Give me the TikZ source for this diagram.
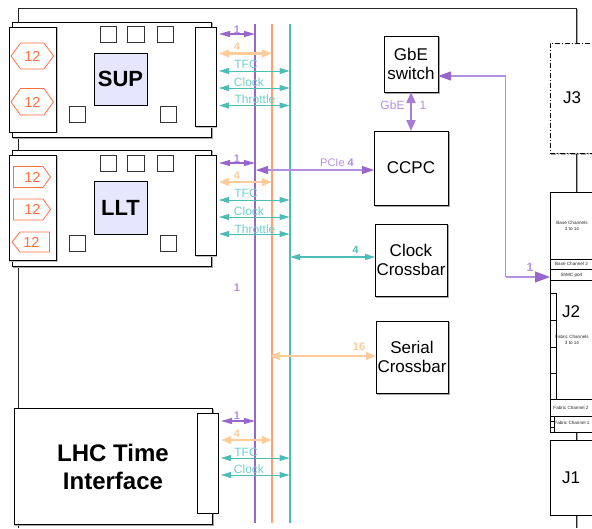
\documentclass[tikz,border=0pt]{standalone}
\usepackage{fontspec}
\setmainfont{Liberation Sans}
\usetikzlibrary{arrows.meta,shadows,shapes.geometric}
\definecolor{pur}{HTML}{9966CC}
\definecolor{purt}{HTML}{B48FE0}
\definecolor{org}{HTML}{FFA070}
\definecolor{pea}{HTML}{FFCC99}
\definecolor{teal2}{HTML}{4DBDB5}
\definecolor{tealt}{HTML}{70CFC8}
\definecolor{red2}{HTML}{FF7043}
\definecolor{lav}{HTML}{E6E6FF}
\newcommand{\bx}[7][]{%
 \node[rbox,#1,minimum width={(#4)-(#2)},minimum height={(#5)-(#3)}] (#6) at ({((#2)+(#4))/2},{((#3)+(#5))/2}) {#7};}
\tikzset{
 rbox/.style={draw=black,fill=white,line width=.8pt,inner sep=0pt,outer sep=0pt,align=center,font=\fontsize{17}{20}\selectfont},
 shad/.style={copy shadow={draw=gray!70,fill=gray!70,shadow xshift=1.3pt,shadow yshift=-1.3pt}},
 shadl/.style={copy shadow={draw=gray!50,fill=gray!50,shadow xshift=.5pt,shadow yshift=-.5pt}},
 small/.style={rbox,line width=.9pt,draw=black!80},
 bus/.style={line width=2pt},
 tee/.style={teal2,line width=1pt,{Triangle[length=10pt,width=6pt]}-{Triangle[length=10pt,width=6pt]},shorten <=3pt},
 pp/.style={pur,line width=1.1pt,{Triangle[length=11pt,width=6pt]}-{Triangle[length=11pt,width=6pt]},shorten <=3pt},
 oo/.style={pea,line width=2.6pt,{Triangle[length=10pt,width=7.5pt]}-{Triangle[length=10pt,width=7.5pt]},shorten <=3pt},
 lab/.style={inner sep=0pt,font=\fontsize{12}{14}\selectfont},
 lt/.style={lab,text=tealt},
 lp/.style={lab,text=purt,font=\bfseries\fontsize{11}{13}\selectfont},
 lo/.style={lab,text=pea,font=\bfseries\fontsize{11}{13}\selectfont},
 tiny/.style={inner sep=0pt,align=center,font=\fontsize{4.6}{5.4}\selectfont,text=black!85},
 num/.style={inner sep=0pt,text=red2,font=\fontsize{14.5}{16}\selectfont},
 ol/.style={draw=red2,fill=white,line width=.8pt},
 rail/.style={draw=black!85,line width=1pt},
}
\begin{document}
\begin{tikzpicture}[x=1pt,y=-1pt]
\clip (0,0) rectangle (592,528);
% backplane rail
\coordinate (r0) at (18,528);
\coordinate (r1) at (18,8);
\coordinate (r2) at (576,8);
\coordinate (r3) at (576,528);
\draw[draw=gray!70,line width=1pt] (577.2,9) -- (577.2,528);
\draw[rail] (r0) -- (r1) -- (r2) -- (r3);
% SUP
\bx[shad]{12.5}{22}{211}{137}{sup}{}
\bx[shadl]{9}{27}{56.5}{132}{supl}{}
\bx[shadl]{195.5}{27}{216}{126.5}{supc}{}
\bx[small]{100}{26}{116}{42}{s1}{}
\bx[small]{127.5}{26}{144}{42}{s2}{}
\bx[small]{157.5}{26}{173.5}{42}{s3}{}
\bx[small]{69}{106}{85}{122}{s4}{}
\bx[small]{160.5}{106}{176.5}{122}{s5}{}
\bx[fill=lav,font=\bfseries\fontsize{22}{24}\selectfont]{94}{53}{147}{105}{supn}{SUP}
\draw[ol] (11,56) -- (20.5,43) -- (44,43) -- (53.5,56) -- (44,69) -- (20.5,69) -- cycle;
\node[num] (h1) at (32.5,56) {12};
\draw[ol] (11,102) -- (20.5,88.5) -- (44,88.5) -- (53.5,102) -- (44,115) -- (20.5,115) -- cycle;
\node[num] (h2) at (32.5,102) {12};
% LLT
\bx[shad]{12.5}{150}{211}{266}{llt}{}
\bx[shadl]{9}{155.5}{56.5}{260.5}{lltl}{}
\bx[shadl]{195.5}{155.5}{216}{255.5}{lltc}{}
\bx[small]{100}{155}{116}{171}{l1}{}
\bx[small]{127.5}{155}{144}{171}{l2}{}
\bx[small]{157.5}{155}{173.5}{171}{l3}{}
\bx[small]{69}{235}{85}{251}{l4}{}
\bx[small]{160.5}{235}{176.5}{251}{l5}{}
\bx[fill=lav,font=\bfseries\fontsize{22}{24}\selectfont]{94}{181.5}{147}{234.5}{lltn}{LLT}
\draw[ol] (13.5,166.5) -- (43,166.5) -- (50.5,177) -- (43,187.5) -- (13.5,187.5) -- cycle;
\node[num] (p1) at (32.5,177) {12};
\draw[ol] (13.5,199) -- (43,199) -- (50.5,209.5) -- (43,220) -- (13.5,220) -- cycle;
\node[num] (p2) at (32.5,209.5) {12};
\draw[ol] (12,242) -- (20,232) -- (49.5,232) -- (49.5,252) -- (20,252) -- cycle;
\node[num] (p3) at (31.5,242) {12};
% LHC
\bx[shad]{14.5}{408}{212.5}{524}{lhc}{}
\node[inner sep=0pt,align=center,font=\bfseries\fontsize{24}{28}\selectfont] (lhct) at (113,466.5) {LHC Time\\Interface};
\bx[shadl]{197}{413.5}{218}{513}{lhcc}{}
% buses
\coordinate (pt) at (255,24); \coordinate (pb) at (255,523);
\coordinate (ot) at (272,24); \coordinate (ob) at (272,523);
\coordinate (tt) at (289.5,24); \coordinate (tb) at (289.5,523);
\draw[bus,pur] (pt) -- (pb);
\draw[bus,org] (ot) -- (ob);
\draw[bus,teal2] (tt) -- (tb);
% SUP arrows
\draw[pp] (supc.east |- 0,34) -- (pt |- 0,34);
\draw[oo] (supc.east |- 0,53.5) -- (ot |- 0,53.5);
\draw[tee] (supc.east |- 0,71) -- (tt |- 0,71);
\draw[tee] (supc.east |- 0,88) -- (tt |- 0,88);
\draw[tee] (supc.east |- 0,105.5) -- (tt |- 0,105.5);
\node[lp] (a1) at (237,30) {1};
\node[lo] (a2) at (237,47) {4};
\node[lt] (a3) at (246,64.5) {TFC};
\node[lt] (a4) at (249,82) {Clock};
\node[lt] (a5) at (255,99.5) {Throttle};
% LLT arrows
\draw[pp] (lltc.east |- 0,163) -- (pt |- 0,163);
\draw[oo] (lltc.east |- 0,182) -- (ot |- 0,182);
\draw[tee] (lltc.east |- 0,200) -- (tt |- 0,200);
\draw[tee] (lltc.east |- 0,217) -- (tt |- 0,217);
\draw[tee] (lltc.east |- 0,234) -- (tt |- 0,234);
\node[lp] (b1) at (237,159) {1};
\node[lo] (b2) at (237,176) {4};
\node[lt] (b3) at (246,193.5) {TFC};
\node[lt] (b4) at (249,211) {Clock};
\node[lt] (b5) at (255,229) {Throttle};
\node[lp] (free1) at (237,288) {1};
% LHC arrows
\draw[pp] (lhcc.east |- 0,421) -- (pt |- 0,421);
\draw[oo] (lhcc.east |- 0,440) -- (ot |- 0,440);
\draw[tee] (lhcc.east |- 0,458) -- (tt |- 0,458);
\draw[tee] (lhcc.east |- 0,475) -- (tt |- 0,475);
\node[lp] (c1) at (237,416) {1};
\node[lo] (c2) at (237,434) {4};
\node[lt] (c3) at (246,452) {TFC};
\node[lt] (c4) at (249,469) {Clock};
% right boxes
\bx[shad]{384}{36}{438}{92}{gbe}{GbE\\[-1pt]switch}
\bx[shad]{374}{131}{448}{205}{ccpc}{CCPC}
\bx[shad]{375}{224}{447}{296}{clk}{Clock\\[-1pt]Crossbar}
\bx[shad]{376}{321}{448}{393}{ser}{Serial\\[-1pt]Crossbar}
% J boxes
\bx[shad,dash pattern=on 5pt off 2pt on 1pt off 2pt]{550}{43}{620}{153}{j3}{}
\node[inner sep=0pt,font=\fontsize{17}{20}\selectfont] (j3t) at (572,98) {J3};
\bx{550}{192}{620}{259}{bc}{}
\bx{550}{259}{620}{269}{bc2}{}
\bx{550}{269}{620}{280}{shmc}{}
\bx{550}{280}{620}{399}{j2}{}
\bx{550}{293}{556}{399}{j2s}{}
\draw[line width=.8pt] (550,320) -- (556,320) (550,347) -- (556,347) (550,373) -- (556,373);
\bx{550}{399}{620}{416}{fc2}{}
\bx{550}{416}{620}{432}{fc1}{}
\draw[line width=.7pt] (554,416) -- (554,432) (550,421) -- (554,421) (550,427) -- (554,427);
\bx{550}{440}{620}{515}{j1}{}
\node[inner sep=0pt,font=\fontsize{17}{20}\selectfont] (j2t) at (571,312) {J2};
\node[inner sep=0pt,font=\fontsize{17}{20}\selectfont] (j1t) at (571,478) {J1};
\node[tiny] (t1) at (572,226) {Base Channels\\3 to 14};
\node[tiny] (t2) at (571.5,264) {Base Channel 2};
\node[tiny] (t3) at (571.5,275) {ShMC port};
\node[tiny] (t4) at (572,340) {Fabric Channels\\3 to 14};
\node[tiny] (t5) at (571,408) {Fabric Channel 2};
\node[tiny] (t6) at (572,423) {Fabric Channel 1};
% right connectors
\coordinate (pc) at (256,170);
\draw[purt,line width=1.1pt,{Triangle[length=12pt,width=8pt,pur]}-{Triangle[length=12pt,width=8pt,pur]}] (pc) -- (ccpc.west |- pc);
\node[lab,text=purt,font=\fontsize{11}{13}\selectfont] (pl) at (337,162.5) {PCIe \textbf{4}};
\draw[pur!85,line width=2pt,{Triangle[length=11pt,width=9pt]}-{Triangle[length=11pt,width=9pt]}] (gbe.south) -- (ccpc.north);
\node[lab,text=purt] (gl) at (392.5,105) {GbE};
\node[lab,text=purt] (gn) at (423,105) {1};
\coordinate (cr) at (505.7,277);
\coordinate (cg) at (505.7,76);
\draw[purt,line width=1.1pt,{Triangle[length=13pt,width=9pt,pur]}-] (gbe.east |- cg) -- (cg) -- (cr);
\draw[purt,line width=1.1pt,-{Triangle[length=15pt,width=11pt,pur]}] (cr) -- (shmc.west |- cr);
\node[lp,font=\bfseries\fontsize{12}{13}\selectfont] (sl) at (530,267.5) {1};
\coordinate (tc) at (290,257);
\draw[tee,shorten <=0pt,line width=1.4pt] (tc) -- (clk.west |- tc);
\node[lab,text=teal2,font=\bfseries\fontsize{10.5}{13}\selectfont] (cl) at (355.5,250) {4};
\coordinate (oc) at (270,356);
\draw[oo,shorten <=0pt] (oc) -- (ser.west |- oc);
\node[lo] (sn) at (359,347) {16};
\end{tikzpicture}
\end{document}
